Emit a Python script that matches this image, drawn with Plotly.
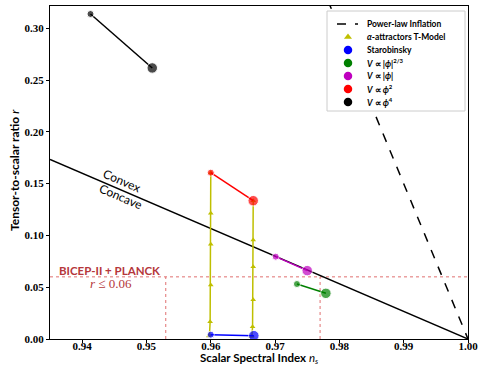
import plotly.graph_objects as go

# ---------------- data ----------------
powerlaw_ns = [0.975, 1.0]
powerlaw_r = [0.375, 0.0]

boundary_ns = [0.935, 1.0]
boundary_r = [0.17333, 0.0]

tmodel50_ns = [0.9600, 0.9600, 0.9600, 0.9600, 0.9599, 0.9598, 0.9597]
tmodel50_r = [0.1606, 0.1214, 0.0915, 0.0521, 0.0167, 0.0039, 0.0030]
tmodel60_ns = [0.9666, 0.9666, 0.9666, 0.9666, 0.9665, 0.9664, 0.9663]
tmodel60_r = [0.1335, 0.0956, 0.0698, 0.0380, 0.0119, 0.0030, 0.0021]

staro_ns = [0.9600, 0.9667]
staro_r = [0.0042, 0.0032]
phi23_ns = [0.9734, 0.9779]
phi23_r = [0.0531, 0.0441]
phi1_ns = [0.9701, 0.9750]
phi1_r = [0.0795, 0.0660]
phi2_ns = [0.9600, 0.9666]
phi2_r = [0.1606, 0.1335]
phi4_ns = [0.9413, 0.9509]
phi4_r = [0.3138, 0.2617]

bicep_r = 0.06
bicep_ns_low = 0.953
bicep_ns_high = 0.977

x_ticks = [0.94, 0.95, 0.96, 0.97, 0.98, 0.99, 1.00]
y_ticks = [0.00, 0.05, 0.10, 0.15, 0.20, 0.25, 0.30]

legend_labels = [
    "Power-law Inflation",
    "<i>α</i>-attractors T-Model",
    "Starobinsky",
    "<i>V</i> ∝ |<i>ϕ</i>|<sup>2/3</sup>",
    "<i>V</i> ∝ |<i>ϕ</i>|",
    "<i>V</i> ∝ <i>ϕ</i><sup>2</sup>",
    "<i>V</i> ∝ <i>ϕ</i><sup>4</sup>",
]

# ---------------- styling ----------------
YEL = "#bfbf00"
BICEP_LINE = "#e07070"
BICEP_TEXT = "#b5373b"
W, H = 480, 367
ML, MR, MT, MB = 50, 12, 6, 28
PW, PH = W - ML - MR, H - MT - MB


def fx(px):
    return (px - ML) / PW


def fy(py):
    return (H - MB - py) / PH


fig = go.Figure()

# BICEP limits
fig.add_trace(go.Scatter(x=[0.935, 1.0], y=[bicep_r, bicep_r], mode="lines",
                         line=dict(color=BICEP_LINE, width=1, dash="dot"), showlegend=False, hoverinfo="skip"))
for xv in (bicep_ns_low, bicep_ns_high):
    fig.add_trace(go.Scatter(x=[xv, xv], y=[0, bicep_r], mode="lines",
                             line=dict(color=BICEP_LINE, width=1, dash="dot"), showlegend=False, hoverinfo="skip"))

# convex / concave boundary
fig.add_trace(go.Scatter(x=boundary_ns, y=boundary_r, mode="lines",
                         line=dict(color="black", width=1.5), showlegend=False))
# power-law inflation
fig.add_trace(go.Scatter(x=powerlaw_ns, y=powerlaw_r, mode="lines",
                         line=dict(color="black", width=1.5, dash="dash"), showlegend=False))

# T-model
for xs, ys in ((tmodel50_ns, tmodel50_r), (tmodel60_ns, tmodel60_r)):
    fig.add_trace(go.Scatter(x=xs, y=ys, mode="lines+markers",
                             line=dict(color=YEL, width=1.5),
                             marker=dict(symbol="triangle-up", size=5, color=YEL),
                             showlegend=False))

models = [
    (staro_ns, staro_r, "#0000ff"),
    (phi23_ns, phi23_r, "#008000"),
    (phi1_ns, phi1_r, "#bf00bf"),
    (phi2_ns, phi2_r, "#ff0000"),
    (phi4_ns, phi4_r, "#000000"),
]
for xs, ys, col in models:
    fig.add_trace(go.Scatter(x=xs, y=ys, mode="lines+markers",
                             line=dict(color=col, width=1.5),
                             marker=dict(size=[7, 10.5], color=col),
                             showlegend=False))

# ---------------- compact legend (drawn on an overlay axis) ----------------
bx0, bx1, by0, by1 = fx(327), fx(465), fy(111), fy(11)
fig.add_trace(go.Scatter(x=[bx0, bx1, bx1, bx0, bx0], y=[by0, by0, by1, by1, by0],
                         mode="lines", fill="toself", fillcolor="white",
                         line=dict(color="#cccccc", width=1), xaxis="x2", yaxis="y2",
                         showlegend=False, hoverinfo="skip"))
rows = [24, 37, 50, 63, 76, 89, 102]
fig.add_trace(go.Scatter(x=[fx(337), fx(358)], y=[fy(rows[0])] * 2, mode="lines",
                         line=dict(color="black", width=1.5, dash="dash"),
                         xaxis="x2", yaxis="y2", showlegend=False, hoverinfo="skip"))
fig.add_trace(go.Scatter(x=[fx(348)], y=[fy(rows[1])], mode="markers",
                         marker=dict(symbol="triangle-up", size=7, color=YEL),
                         xaxis="x2", yaxis="y2", showlegend=False, hoverinfo="skip"))
for i, (_, _, col) in enumerate(models):
    fig.add_trace(go.Scatter(x=[fx(348)], y=[fy(rows[i + 2])], mode="markers",
                             marker=dict(size=8.5, color=col),
                             xaxis="x2", yaxis="y2", showlegend=False, hoverinfo="skip"))
for i, lab in enumerate(legend_labels):
    fig.add_annotation(x=fx(365), y=fy(rows[i]), xref="paper", yref="paper", text=lab,
                       showarrow=False, xanchor="left", yanchor="middle",
                       font=dict(family="Lato", size=8.5, color="black", weight="bold"))

# ---------------- annotations ----------------
fig.add_annotation(x=0.94613, y=0.1526, xref="x", yref="y", text="Convex", showarrow=False,
                   textangle=23.2, font=dict(family="Lato", size=12, color="black"))
fig.add_annotation(x=0.9460, y=0.1374, xref="x", yref="y", text="Concave", showarrow=False,
                   textangle=23.2, font=dict(family="Lato", size=12, color="black"))
fig.add_annotation(x=0.9443, y=0.0660, xref="x", yref="y", text="<b>BICEP-II + PLANCK</b>", showarrow=False,
                   font=dict(family="Lato", size=11.5, color=BICEP_TEXT))
fig.add_annotation(x=0.9445, y=0.0540, xref="x", yref="y", text="<i>r</i> ≤ 0.06", showarrow=False,
                   font=dict(family="Liberation Serif", size=13, color=BICEP_TEXT))

# axis titles
fig.add_annotation(x=fx(259), y=fy(358), xref="paper", yref="paper",
                   text="<b>Scalar Spectral Index</b> <i>n<sub>s</sub></i>", showarrow=False,
                   xanchor="center", yanchor="middle",
                   font=dict(family="Lato", size=11.5, color="black"))
fig.add_annotation(x=fx(14), y=fy(170), xref="paper", yref="paper",
                   text="<b>Tensor-to-scalar ratio</b> <i>r</i>", showarrow=False, textangle=-90,
                   xanchor="center", yanchor="middle",
                   font=dict(family="Lato", size=12, color="black"))

tickfont = dict(family="Liberation Serif", size=11, color="black")
fig.update_xaxes(range=[0.935, 1.0], tickvals=x_ticks, ticktext=[f"<b>{v:.2f}</b>" for v in x_ticks],
                 showgrid=False, zeroline=False, showline=True, linecolor="black", linewidth=1.2,
                 mirror=True, ticks="outside", ticklen=3, tickcolor="black", tickfont=tickfont,
                 ticklabelstandoff=-6, automargin=False)
fig.update_yaxes(range=[0.0, 0.3215], tickvals=y_ticks, ticktext=[f"<b>{v:.2f}</b>" for v in y_ticks],
                 showgrid=False, zeroline=False, showline=True, linecolor="black", linewidth=1.2,
                 mirror=True, ticks="outside", ticklen=3, tickcolor="black", tickfont=tickfont,
                 automargin=False)

fig.update_layout(
    width=W, height=H,
    margin=dict(l=ML, r=MR, t=MT, b=MB),
    plot_bgcolor="white", paper_bgcolor="white",
    showlegend=False,
    xaxis2=dict(overlaying="x", range=[0, 1], visible=False, fixedrange=True),
    yaxis2=dict(overlaying="y", range=[0, 1], visible=False, fixedrange=True),
)

fig.write_html("out.html")
